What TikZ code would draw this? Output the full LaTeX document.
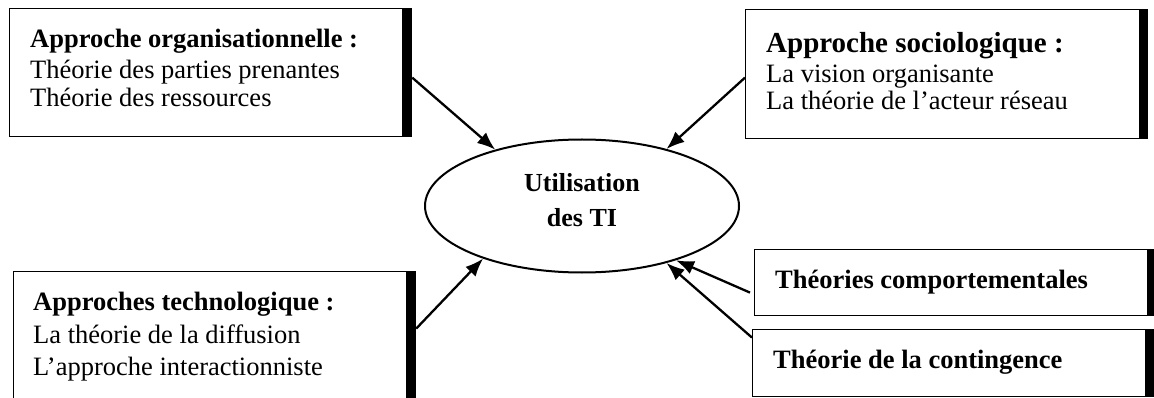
\documentclass[tikz,border=0pt]{standalone}
\usepackage{fontspec}
\setmainfont{Liberation Serif}
\usetikzlibrary{shapes.geometric,arrows.meta}
\begin{document}
\begin{tikzpicture}[x=1pt,y=-1pt,
  box/.style={draw,line width=1.2pt,rectangle,anchor=north west,inner sep=0pt},
  bar/.style={fill=black},
  txt/.style={anchor=base west,inner sep=0pt,font=\fontsize{26.5}{30}\selectfont},
  btxt/.style={txt,font=\fontsize{26.5}{30}\selectfont\bfseries},
  ctxt/.style={anchor=base,inner sep=0pt,font=\fontsize{26}{30}\selectfont\bfseries},
  arr/.style={line width=2.3pt,-{Latex[length=18pt,width=14pt]}}]
\useasboundingbox (0,0) rectangle (1154,398);
\clip (0,0) rectangle (1154,398);
% boxes
\node[box,minimum width=393pt,minimum height=128pt] (b1) at (9,8) {};
\fill[bar] (b1.north east) rectangle ([xshift=9pt]b1.south east);
\node[box,minimum width=394pt,minimum height=129pt] (b2) at (745,9) {};
\fill[bar] (b2.north east) rectangle ([xshift=8pt]b2.south east);
\node[box,minimum width=393pt,minimum height=140pt] (b3) at (13,271) {};
\fill[bar] (b3.north east) rectangle ([xshift=9pt]b3.south east);
\node[box,minimum width=393pt,minimum height=66pt] (b4) at (754,249) {};
\fill[bar] (b4.north east) rectangle ([xshift=7pt]b4.south east);
\node[box,minimum width=393pt,minimum height=67pt] (b5) at (752,329) {};
\fill[bar] (b5.north east) rectangle ([xshift=8pt]b5.south east);
% texts
\node[btxt] (t11) at (30,48) {Approche organisationnelle :};
\node[txt] (t12) at (30,79) {Théorie des parties prenantes};
\node[txt] (t13) at (30,107) {Théorie des ressources};
\node[txt,font=\fontsize{29}{32}\selectfont\bfseries] (t21) at (766,53) {Approche sociologique :};
\node[txt] (t22) at (766,83) {La vision organisante};
\node[txt] (t23) at (766,110) {La théorie de l’acteur réseau};
\node[btxt] (t31) at (33,310) {Approches technologique :};
\node[txt] (t32) at (33,343) {La théorie de la diffusion};
\node[txt] (t33) at (33,375) {L’approche interactionniste};
\node[btxt] (t4) at (775,288) {Théories comportementales};
\node[btxt] (t5) at (773,368) {Théorie de la contingence};
% ellipse
\node[draw,ellipse,line width=2pt,minimum width=314pt,minimum height=133pt,inner sep=0pt] (u) at (582,206) {};
\node[ctxt] (u1) at (582,192) {Utilisation};
\node[ctxt] (u2) at (582,226) {des TI};
% arrows
\draw[arr] ([shift={(9,5)}]b1.east) -- (u.147);
\draw[arr] ([shift={(0,3.5)}]b2.west) -- (u.34);
\draw[arr] ([shift={(9,-13)}]b3.east) -- (u.208);
\draw[arr] ([shift={(-4,10)}]b4.west) -- (u.330);
\draw[arr] ([shift={(0,-25.5)}]b5.west) -- (u.326);
\end{tikzpicture}
\end{document}
